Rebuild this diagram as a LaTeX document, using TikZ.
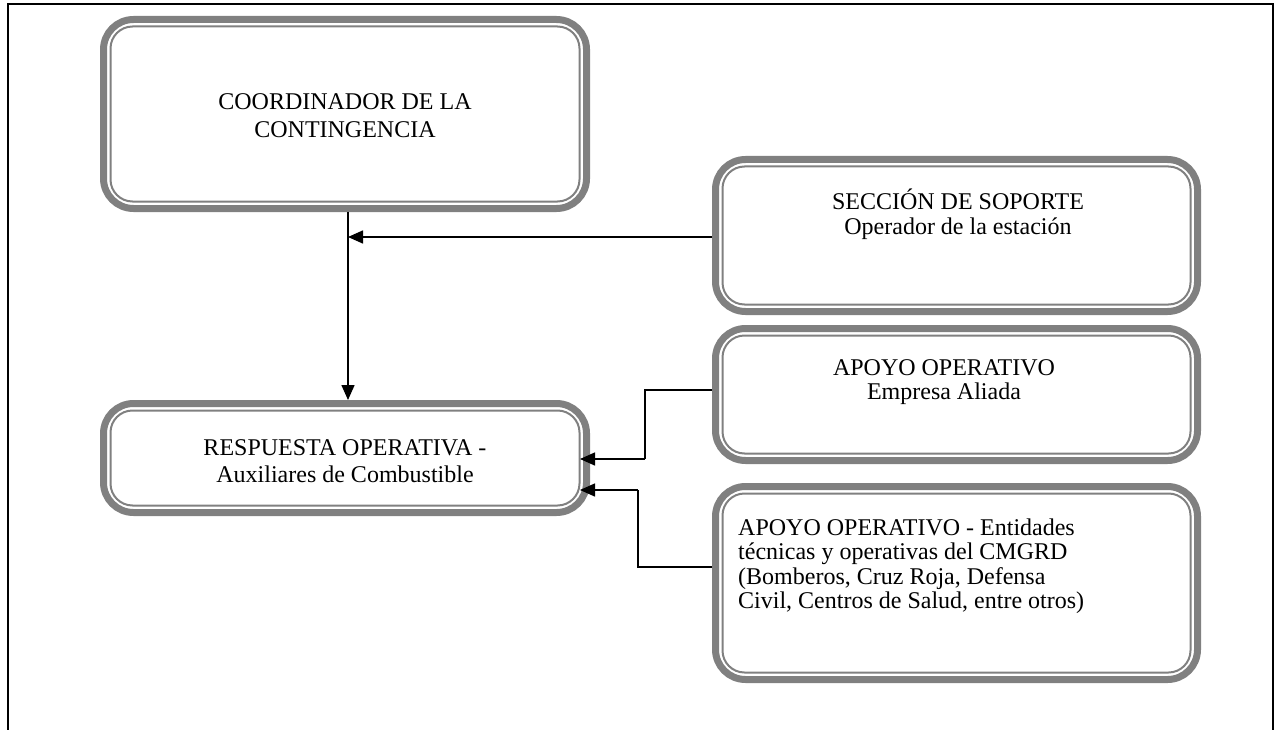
\documentclass[tikz,border=0pt]{standalone}
\usepackage{fontspec}
\setmainfont{Liberation Serif}
\usetikzlibrary{arrows.meta}
\definecolor{bandgray}{RGB}{128,128,128}
\begin{document}
\begin{tikzpicture}[x=1pt,y=-1pt,
  box/.style={draw=bandgray, line width=7pt, rounded corners=30pt, outer sep=3.5pt, inner sep=0pt},
  innerline/.style={draw=bandgray, line width=2pt, rounded corners=22pt},
  txt/.style={font=\fontsize{24}{24.5}\selectfont, align=center, inner sep=0pt},
  arr/.style={line width=1.5pt, -{Triangle[length=15pt,width=13pt]}},
  ln/.style={line width=1.5pt},
  frame/.style={line width=2pt}]
\useasboundingbox (0,0) rectangle (1276,730);
% frame
\draw[frame] (8,731) -- (8,4) -- (1273,4) -- (1273,731);
% boxes
\node[box, minimum width=483pt, minimum height=189pt] (b1) at (345,114) {};
\node[box, minimum width=482pt, minimum height=152pt] (b2) at (956.5,235.5) {};
\node[box, minimum width=482pt, minimum height=132pt] (b3) at (956.5,394.5) {};
\node[box, minimum width=482pt, minimum height=193pt] (b4) at (956.5,583) {};
\node[box, minimum width=483pt, minimum height=109pt] (b5) at (345,458) {};
\foreach \n in {b1,b2,b3,b4,b5}
  \draw[innerline] ([shift={(10.5,10.5)}]\n.north west) rectangle ([shift={(-10.5,-10.5)}]\n.south east);
% texts
\node[txt, font=\fontsize{24}{28}\selectfont] (t1) at (345,116) {COORDINADOR DE LA\\CONTINGENCIA};
\node[txt] (t2) at (958,214.5) {SECCIÓN DE SOPORTE\\Operador de la estación};
\node[txt] (t3) at (944,382) {APOYO OPERATIVO\\Empresa Aliada};
\node[txt, align=left, anchor=west] (t4) at (738,566) {APOYO OPERATIVO - Entidades\\técnicas y operativas del CMGRD\\(Bomberos, Cruz Roja, Defensa\\Civil, Centros de Salud, entre otros)};
\node[txt, font=\fontsize{24}{27}\selectfont] (t5) at (345,461) {RESPUESTA OPERATIVA -\\Auxiliares de Combustible};
% connectors
\coordinate (v) at ([xshift=3pt]b1.south);
\draw[arr] (v) -- (v |- b5.north);
\draw[arr] ([yshift=-1.5pt]b2.west) -- ([yshift=-1.5pt]b2.west -| v);
\coordinate (e3) at ([yshift=4.5pt]b3.west);
\coordinate (k3) at (645,0);
\coordinate (h3) at ([xshift=-10pt,yshift=-1pt]b5.east);
\draw[ln] (e3) -- (e3 -| k3) -- (h3 -| k3);
\draw[arr] (h3 -| k3) -- (h3);
\coordinate (e4) at ([yshift=16pt]b4.west);
\coordinate (k4) at (638,0);
\coordinate (h4) at ([xshift=-10pt,yshift=-32pt]b5.east);
\draw[ln] (e4) -- (e4 -| k4) -- (h4 -| k4);
\draw[arr] (h4 -| k4) -- (h4);
\end{tikzpicture}
\end{document}
